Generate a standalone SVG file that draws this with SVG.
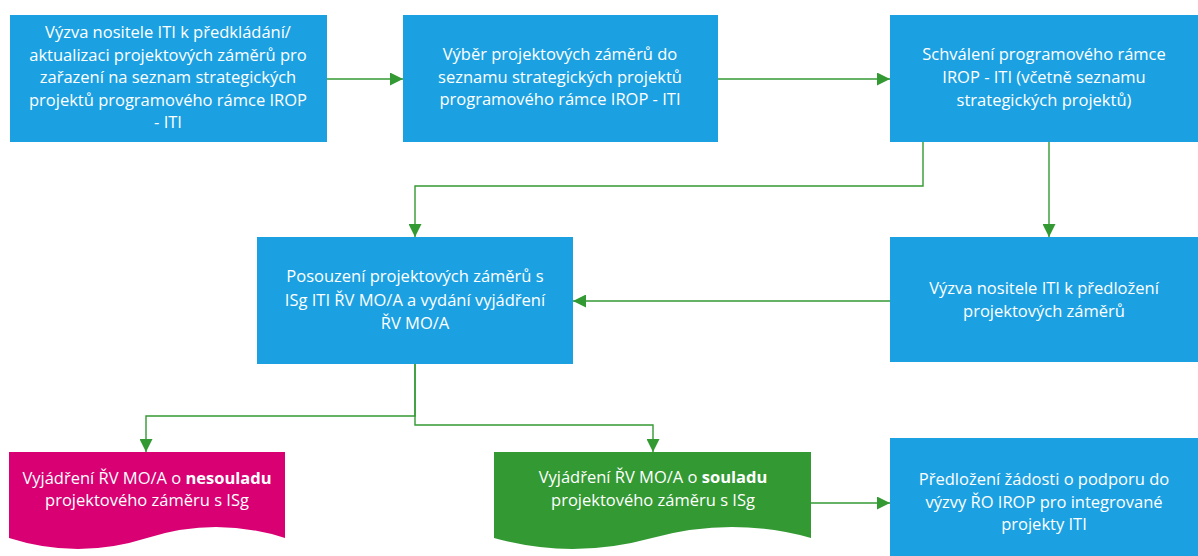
<svg xmlns="http://www.w3.org/2000/svg" width="1198" height="556" viewBox="0 0 1198 556">
<style>
.box{fill:#1ba1e2}
.pink{fill:#d80073}
.green{fill:#339933}
text{font-family:"Open Sans","Noto Sans","DejaVu Sans",sans-serif;font-size:16.5px;fill:#ffffff;text-anchor:middle}
.b{font-weight:bold}
.con{fill:none;stroke:#339933;stroke-width:1.4;marker-end:url(#arr)}
</style>
<defs>
<marker id="arr" viewBox="0 0 13 13" refX="13" refY="6.5" markerWidth="13" markerHeight="13" markerUnits="userSpaceOnUse" orient="auto">
<path d="M0,0 L13,6.5 L0,13 Z" fill="#339933"/>
</marker>
</defs>
<rect width="1198" height="556" fill="#ffffff"/>
<g id="connectors">
<path class="con" d="M327,79 H403"/>
<path class="con" d="M718,79 H890"/>
<path class="con" d="M923,142 V186 H415 V237"/>
<path class="con" d="M1049,142 V237"/>
<path class="con" d="M890,301 H573"/>
<path class="con" d="M415,364 V416 H146 V452"/>
<path class="con" d="M415,364 V425 H653 V452"/>
<path class="con" d="M811,503 H890"/>
</g>
<g id="n1">
<rect class="box" x="10" y="15" width="317" height="127"/>
<text x="168" y="38">Výzva nositele ITI k předkládání/</text>
<text x="168" y="61">aktualizaci projektových záměrů pro</text>
<text x="168" y="83">zařazení na seznam strategických</text>
<text x="168" y="106">projektů programového rámce IROP</text>
<text x="168" y="128">- ITI</text>
</g>
<g id="n2">
<rect class="box" x="403" y="15" width="315" height="127"/>
<text x="560" y="60">Výběr projektových záměrů do</text>
<text x="560" y="83">seznamu strategických projektů</text>
<text x="560" y="105">programového rámce IROP - ITI</text>
</g>
<g id="n3">
<rect class="box" x="890" y="15" width="308" height="127"/>
<text x="1044" y="60">Schválení programového rámce</text>
<text x="1044" y="83">IROP - ITI (včetně seznamu</text>
<text x="1044" y="106">strategických projektů)</text>
</g>
<g id="n4">
<rect class="box" x="257" y="237" width="316" height="127"/>
<text x="415" y="282">Posouzení projektových záměrů s</text>
<text x="415" y="306">ISg ITI ŘV MO/A a vydání vyjádření</text>
<text x="415" y="329">ŘV MO/A</text>
</g>
<g id="n5">
<rect class="box" x="890" y="237" width="308" height="125"/>
<text x="1044" y="294">Výzva nositele ITI k předložení</text>
<text x="1044" y="317">projektových záměrů</text>
</g>
<g id="n6">
<path class="pink" d="M9,452 H285 V538 Q216,516 147,538 T9,538 Z"/>
<text x="147" y="484">Vyjádření ŘV MO/A o <tspan class="b">nesouladu</tspan></text>
<text x="147" y="506">projektového záměru s ISg</text>
</g>
<g id="n7">
<path class="green" d="M494,452 H811 V538 Q732,516 652,538 T494,538 Z"/>
<text x="653" y="483">Vyjádření ŘV MO/A o <tspan class="b">souladu</tspan></text>
<text x="653" y="506">projektového záměru s ISg</text>
</g>
<g id="n8">
<rect class="box" x="890" y="438" width="308" height="118"/>
<text x="1044" y="485">Předložení žádosti o podporu do</text>
<text x="1044" y="508">výzvy ŘO IROP pro integrované</text>
<text x="1044" y="530">projekty ITI</text>
</g>
</svg>
